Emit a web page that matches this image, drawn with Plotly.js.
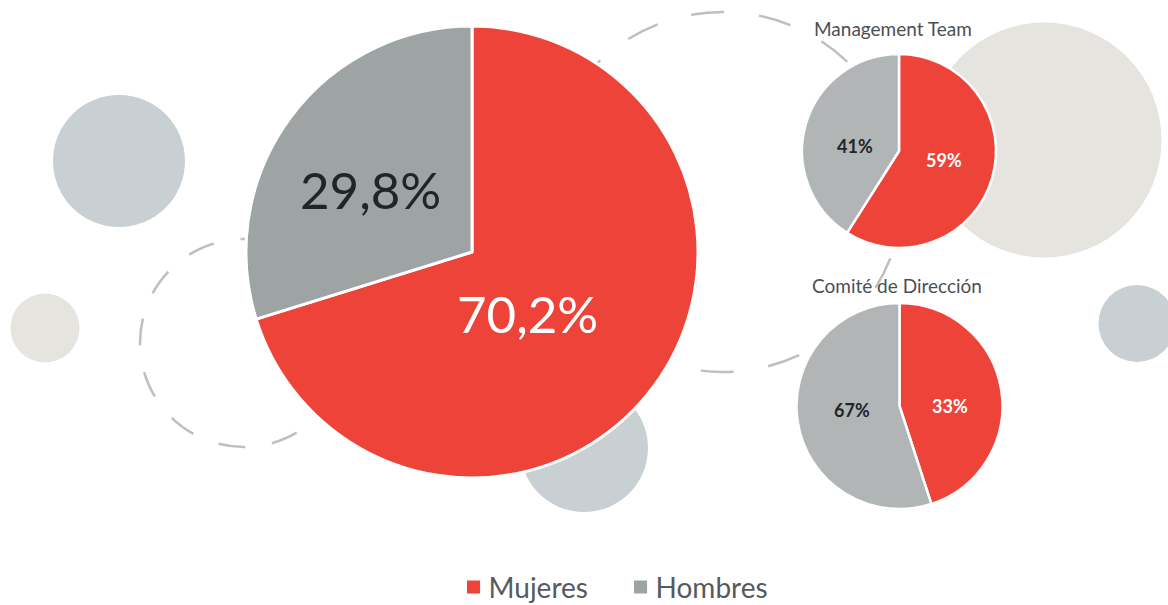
<!DOCTYPE html>
<html>
<head>
<meta charset="utf-8">
<script src="https://cdn.plot.ly/plotly-3.0.1.min.js"></script>
<style>
  html, body { margin: 0; padding: 0; background: #fff; }
  #chart { width: 1168px; height: 605px; }
</style>
</head>
<body>
<div id="chart"></div>
<script>
    var categories = ['Mujeres', 'Hombres'];
    var totalShares = [70.2, 29.8];
    var managementShares = [59, 41];
    // slices of the comité pie as drawn; the printed labels are kept separately
    var comiteShares = [45, 55];
    var comiteLabels = ['33%', '67%'];
    var pieTitles = ['Management Team', 'Comité de Dirección'];

    var W = 1168, H = 605;
    function px(x, y) { return {x: x / W, y: 1 - y / H}; }
    function domain(cx, cy, r) {
        return {x: [(cx - r) / W, (cx + r) / W], y: [1 - (cy + r) / H, 1 - (cy - r) / H]};
    }

    var red = '#ee4338';
    var dark = '#212528';

    var total = {
        type: 'pie',
        labels: categories,
        values: totalShares,
        sort: false,
        direction: 'clockwise',
        rotation: 0,
        domain: domain(472, 252, 226),
        marker: {colors: [red, '#9ea3a3'], line: {color: '#ffffff', width: 3}},
        textinfo: 'none',
        hoverinfo: 'label+percent'
    };

    var management = {
        type: 'pie',
        labels: categories,
        values: managementShares,
        sort: false,
        direction: 'clockwise',
        rotation: 0,
        domain: domain(899, 151, 97),
        marker: {colors: [red, '#b2b5b6'], line: {color: '#ffffff', width: 2.5}},
        textinfo: 'none',
        showlegend: false
    };

    var comite = {
        type: 'pie',
        labels: categories,
        values: comiteShares,
        sort: false,
        direction: 'clockwise',
        rotation: 0,
        domain: domain(899.5, 406, 103),
        marker: {colors: [red, '#b2b5b6'], line: {color: '#ffffff', width: 2.5}},
        textinfo: 'none',
        showlegend: false
    };

    function fmt(v) { return v.toFixed(1).replace('.', ',') + '%'; }

    function label(text, pos, size, color, weight) {
        var p = px(pos[0], pos[1]);
        return {
            xref: 'paper', yref: 'paper', x: p.x, y: p.y,
            xanchor: 'center', yanchor: 'middle', showarrow: false,
            text: text,
            font: {family: 'Lato, sans-serif', size: size, color: color, weight: weight || 'normal'}
        };
    }

    var annotations = [
        label(fmt(totalShares[0]), [527, 313], 51, '#ffffff'),
        label(fmt(totalShares[1]), [370, 189], 51, dark),
        label(managementShares[0] + '%', [944, 160], 18, '#ffffff', 'bold'),
        label(managementShares[1] + '%', [855, 146], 18, dark, 'bold'),
        label(comiteLabels[0], [950, 406], 18, '#ffffff', 'bold'),
        label(comiteLabels[1], [852, 410], 18, dark, 'bold'),
        label(pieTitles[0], [893, 29], 19, '#4a4f53'),
        label(pieTitles[1], [897, 286], 19, '#4a4f53')
    ];

    function circle(cx, cy, r, fill) {
        var a = px(cx - r, cy + r), b = px(cx + r, cy - r);
        return {type: 'circle', xref: 'paper', yref: 'paper', layer: 'below',
            x0: a.x, y0: a.y, x1: b.x, y1: b.y,
            fillcolor: fill, line: {width: 0}};
    }
    function dashedCircle(cx, cy, r, dash) {
        var a = px(cx - r, cy + r), b = px(cx + r, cy - r);
        return {type: 'circle', xref: 'paper', yref: 'paper', layer: 'below',
            x0: a.x, y0: a.y, x1: b.x, y1: b.y,
            line: {color: '#bfbfbf', width: 2.5, dash: dash}};
    }

    var shapes = [
        circle(119, 161, 66, '#c8d0d4'),
        circle(45, 328, 34.5, '#e5e4df'),
        circle(584, 448, 64, '#c8d0d4'),
        circle(1044, 140, 117.5, '#e5e4df'),
        circle(1137, 323.5, 38.5, '#c8d0d4'),
        dashedCircle(244, 343, 104, '27px,27px'),
        dashedCircle(723, 192, 180, '33px,35px')
    ];

    var layout = {
        width: W,
        height: H,
        margin: {l: 0, r: 0, t: 0, b: 0, autoexpand: false},
        paper_bgcolor: '#ffffff',
        font: {family: 'Lato, sans-serif'},
        showlegend: true,
        legend: {
            orientation: 'h',
            x: 0.527, xanchor: 'center',
            y: -0.012, yanchor: 'bottom',
            entrywidth: 122,
            font: {size: 28, color: '#555a5e'},
            itemclick: false
        },
        shapes: shapes,
        annotations: annotations
    };

    var gd = document.getElementById('chart');

    // bigger square swatches sitting closer to the text, as in the original
    function fixSwatches() {
        gd.querySelectorAll('.legendpoints path').forEach(function (p) {
            p.setAttribute('transform', 'translate(25,0) scale(1.45)');
        });
    }

    Plotly.newPlot(gd, [total, management, comite], layout, {displayModeBar: false}).then(function () {
        fixSwatches();
        gd.on('plotly_afterplot', fixSwatches);
    });
</script>
</body>
</html>
